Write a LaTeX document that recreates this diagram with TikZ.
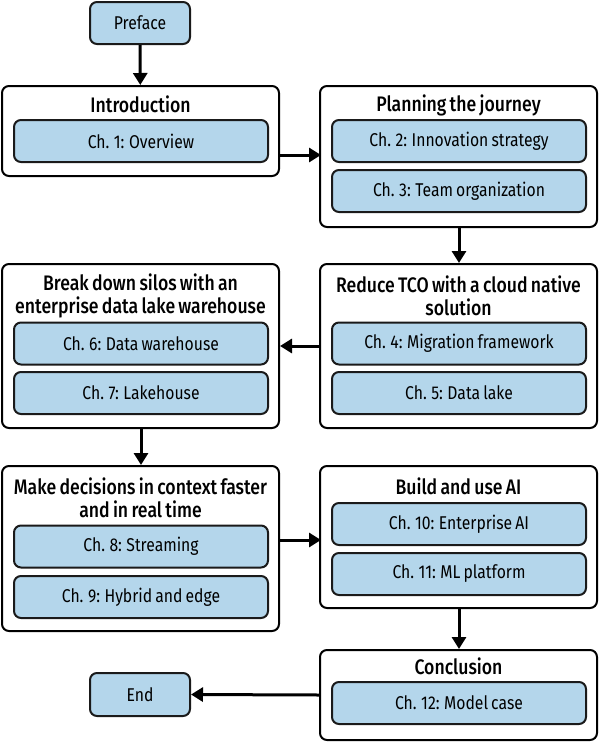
\documentclass[tikz,border=0pt]{standalone}
\usepackage{fontspec}
\setmainfont{Fira Sans}[FakeStretch=0.85,WordSpace=0.75]
\newfontfamily\titlefont{Fira Sans Medium}[FakeStretch=0.84,WordSpace=0.75]
\usetikzlibrary{arrows.meta,calc}
\definecolor{chblue}{HTML}{B4D6EB}
\definecolor{edge}{HTML}{1A1A1A}
\begin{document}
\begin{tikzpicture}[x=1pt,y=-1pt,
  outer/.style={draw=black, line width=2pt, rounded corners=7pt, fill=white,
    inner sep=0pt, minimum width=277pt},
  chap/.style={draw=edge, line width=2pt, rounded corners=7pt, fill=chblue,
    inner sep=0pt, minimum width=254pt, minimum height=42pt,
    font=\fontsize{18.5}{21}\selectfont},
  term/.style={chap, minimum width=100pt},
  ttl/.style={font=\titlefont\fontsize{21}{23}\selectfont, align=center, inner sep=0pt},
  arr/.style={line width=3pt, -{Triangle[width=14pt,length=12pt]}}
]
\useasboundingbox (0,0) rectangle (600,742);

% start / end
\node[term] (preface) at (140,23) {Preface};
\node[term, minimum height=43pt] (end) at (140,694.5) {End};

% Introduction
\node[outer, minimum height=90pt] (intro) at (140.5,131) {};
\node[ttl] (introt) at (140.5,104) {Introduction};
\node[chap] (ch1) at (141,141) {Ch. 1: Overview};

% Planning
\node[outer, minimum height=141pt] (plan) at (458.5,156.5) {};
\node[ttl] (plant) at (458.5,105) {Planning the journey};
\node[chap] (ch2) at (459,141) {Ch. 2: Innovation strategy};
\node[chap] (ch3) at (459,191) {Ch. 3: Team organization};

% Reduce TCO
\node[outer, minimum height=164pt] (reduce) at (458.5,346) {};
\node[ttl] (reducet) at (458.5,295.5) {Reduce TCO with a cloud native\\solution};
\node[chap] (ch4) at (459,343.5) {Ch. 4: Migration framework};
\node[chap] (ch5) at (459,393) {Ch. 5: Data lake};

% Break down silos
\node[outer, minimum height=164pt] (break) at (140.5,346) {};
\node[ttl] (breakt) at (140.5,295.5) {Break down silos with an\\enterprise data lake warehouse};
\node[chap] (ch6) at (141,343.5) {Ch. 6: Data warehouse};
\node[chap] (ch7) at (141,393) {Ch. 7: Lakehouse};

% Make decisions
\node[outer, minimum height=165pt] (make) at (140.5,548.5) {};
\node[ttl] (maket) at (140.5,498) {Make decisions in context faster\\and in real time};
\node[chap] (ch8) at (141,546.5) {Ch. 8: Streaming};
\node[chap] (ch9) at (141,597) {Ch. 9: Hybrid and edge};

% Build and use AI
\node[outer, minimum height=142pt] (build) at (458.5,537) {};
\node[ttl] (buildt) at (458.5,486) {Build and use AI};
\node[chap] (ch10) at (459,524) {Ch. 10: Enterprise AI};
\node[chap] (ch11) at (459,574) {Ch. 11: ML platform};

% Conclusion
\node[outer, minimum height=90pt] (concl) at (458.5,695) {};
\node[ttl] (conclt) at (458.5,666) {Conclusion};
\node[chap] (ch12) at (459,703) {Ch. 12: Model case};

% connectors
\draw[arr] (preface) -- (intro);
\draw[arr] ($(intro.east)+(0,24)$) -- ($(intro.east)+(41,24)$);
\draw[arr] (plan.south -| ch2) -- (reduce.north -| ch2);
\draw[arr] (reduce.west) -- (break.east);
\draw[arr] (break.south -| ch7) -- (make.north -| ch7);
\draw[arr] ($(make.east)+(0,-8.5)$) -- ($(make.east)+(41,-8.5)$);
\draw[arr] (build.south -| ch11) -- (concl.north -| ch11);
\draw[arr] (concl.west) -- (end.east);
\end{tikzpicture}
\end{document}
